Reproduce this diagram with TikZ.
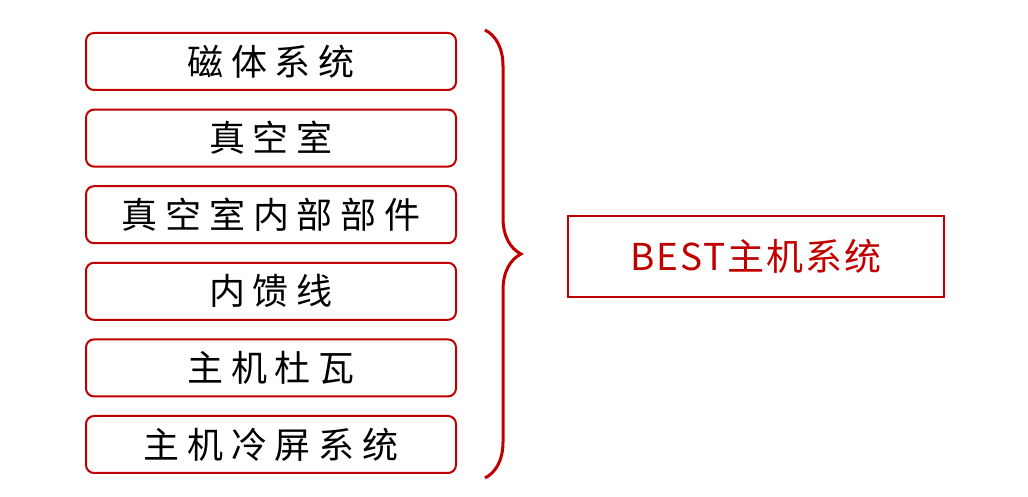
\documentclass[tikz,border=0pt]{standalone}
\usepackage{fontspec}
\usetikzlibrary{positioning,decorations.pathreplacing}
\newfontfamily\cjk[LetterSpace=22]{Noto Sans CJK SC}
\newfontfamily\cjkbest[LetterSpace=5]{Noto Sans CJK SC}
\definecolor{boxred}{RGB}{192,0,0}

\begin{document}
\begin{tikzpicture}[x=1pt,y=1pt,
  partbox/.style={draw=boxred, line width=2pt, rounded corners=8pt,
    minimum width=370pt, minimum height=57pt, inner sep=0pt,
    font=\cjk\fontsize{36}{36}\selectfont},
  bestbox/.style={draw=boxred, line width=2pt, text=boxred,
    minimum width=376pt, minimum height=81pt, inner sep=0pt,
    font=\cjkbest\fontsize{37}{37}\selectfont},
  bigbrace/.style={draw=boxred, line width=3pt,
    decorate, decoration={brace, amplitude=36pt}}]
\useasboundingbox (0,0) rectangle (1028,497);
% parts on the left
\node[partbox] (mag) at (271,435.5) {磁体系统};
\node[partbox, below=17.6pt of mag] (vac) {真空室};
\node[partbox, below=17.6pt of vac] (vacin) {真空室内部部件};
\node[partbox, below=17.6pt of vacin] (feed) {内馈线};
\node[partbox, below=17.6pt of feed] (bear) {主机杜瓦};
\node[partbox, below=17.6pt of bear] (cool) {主机冷屏系统};
% brace and main system
\draw[bigbrace] ([xshift=28pt,yshift=2pt]mag.north east) -- ([xshift=28pt,yshift=-4pt]cool.south east);
\node[bestbox] (best) at (756,240.5) {BEST主机系统};
\end{tikzpicture}
\end{document}
